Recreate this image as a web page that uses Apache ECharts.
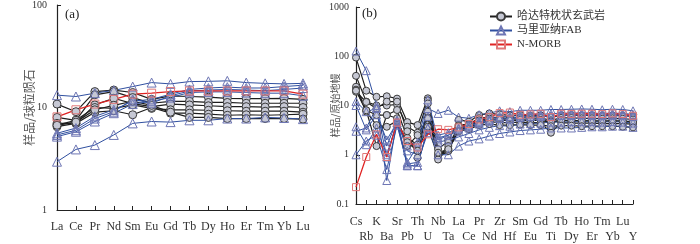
<!DOCTYPE html>
<html><head><meta charset="utf-8">
<script src="https://cdn.jsdelivr.net/npm/echarts@6/dist/echarts.min.js"></script>
<style>html,body{margin:0;padding:0;background:#fff}#c{width:700px;height:244px}</style>
</head><body><div id="c"></div>
<script>
// ---------- Data: chart (a) chondrite-normalised REE ----------
var reeCats = ['La','Ce','Pr','Nd','Sm','Eu','Gd','Tb','Dy','Ho','Er','Tm','Yb','Lu'];
var reeCircle1 = [10.8, 9.1, 14.3, 14.8, 14.0, 12.0, 13.0, 12.8, 12.6, 12.3, 12.2, 12.2, 12.3, 12.0];
var reeCircle2 = [8.0, 7.5, 13.3, 14.3, 12.5, 11.0, 11.5, 11.5, 11.2, 11.2, 11.0, 11.0, 11.0, 11.0];
var reeCircle3 = [7.0, 7.0, 10.6, 12.3, 10.9, 10.2, 10.8, 10.6, 10.4, 10.2, 10.2, 10.1, 10.2, 10.0];
var reeCircle4 = [6.75, 7.5, 10.0, 9.8, 10.6, 9.8, 9.5, 9.5, 9.4, 9.3, 9.2, 9.2, 9.2, 9.0];
var reeCircle5 = [6.5, 7.0, 9.0, 9.3, 8.5, 10.0, 8.8, 8.8, 8.6, 8.4, 8.5, 8.4, 8.5, 8.6];
var reeCircle6 = [6.7, 7.2, 9.5, 10.5, 11.5, 10.5, 9.0, 8.0, 8.0, 7.8, 7.8, 7.8, 7.8, 7.7];
var reeTri1 = [13.2, 12.8, 13.8, 14.7, 16.0, 17.5, 17.0, 17.9, 18.0, 18.2, 17.5, 17.2, 17.0, 17.2];
var reeTri2 = [5.4, 6.0, 7.8, 9.1, 12.0, 11.0, 13.0, 14.5, 14.8, 15.0, 14.8, 14.6, 15.0, 15.5];
var reeTri3 = [5.2, 5.8, 7.3, 8.8, 10.8, 11.5, 12.5, 14.0, 14.2, 14.2, 14.0, 13.8, 13.8, 13.0];
var reeTri4 = [5.6, 6.3, 8.2, 9.5, 11.5, 12.0, 13.5, 15.0, 15.5, 15.8, 15.5, 15.5, 16.0, 16.5];
var reeTri5 = [2.96, 3.9, 4.3, 5.4, 7.0, 7.3, 7.2, 7.5, 7.5, 7.8, 7.8, 8.0, 7.9, 7.7];
var reeMorb = [8.1, 9.5, 10.8, 12.0, 13.5, 13.8, 14.3, 14.5, 14.5, 14.5, 14.5, 14.5, 14.5, 13.5];

// ---------- Data: chart (b) primitive-mantle-normalised spider ----------
var pmCats = ['Cs','Rb','K','Ba','Sr','Pb','Th','U','Nb','Ta','La','Ce','Pr','Nd','Zr','Hf','Sm','Eu','Gd','Ti','Tb','Dy','Ho','Er','Tm','Yb','Lu','Y'];
var pmCircle1 = [94, 20, 15, 15.4, 13.8, 4.6, 4.0, 14, 1.3, 1.9, 5.1, 4.7, 6.4, 6.9, 6.6, 6.3, 6.4, 6.2, 6.3, 5.8, 6.3, 6.4, 6.3, 6.3, 6.2, 6.3, 6.2, 6.0];
var pmCircle2 = [40, 12, 10, 10, 10.5, 3.7, 2.8, 12.8, 1.0, 1.3, 4.0, 4.2, 5.5, 5.9, 5.6, 5.5, 5.7, 5.5, 5.6, 5.0, 5.6, 5.6, 5.5, 5.5, 5.4, 5.5, 5.4, 5.2];
var pmCircle3 = [24, 8, 6.4, 6.4, 8.1, 2.2, 1.6, 7.5, 0.87, 1.2, 3.4, 3.9, 4.7, 5.2, 5.0, 5.0, 5.0, 5.0, 5.0, 4.5, 5.0, 5.0, 4.9, 4.9, 4.8, 4.9, 4.8, 4.7];
var pmCircle4 = [21, 7.5, 4.0, 3.7, 4.9, 1.8, 1.2, 3.7, 0.9, 1.2, 3.2, 3.6, 4.3, 4.7, 4.5, 4.5, 4.6, 4.5, 4.5, 2.8, 4.5, 4.4, 4.4, 4.4, 4.3, 4.3, 4.3, 4.2];
var pmCircle5 = [19, 11.8, 8.7, 12, 12, 3.0, 0.87, 11, 0.8, 1.5, 3.8, 4.0, 5.0, 5.4, 5.2, 5.0, 5.2, 5.0, 5.1, 4.7, 5.0, 4.9, 4.9, 4.8, 4.8, 4.8, 4.8, 4.6];
var pmCircle6 = [20, 8, 1.5, 6.4, 5.5, 1.5, 2.5, 5.5, 1.1, 1.3, 3.0, 3.3, 4.0, 4.2, 4.0, 4.0, 4.1, 4.0, 4.0, 3.8, 3.9, 3.9, 3.8, 3.8, 3.8, 3.8, 3.7, 3.6];
var pmTri1 = [127, 51, 10, 0.3, 5.0, 0.6, 0.6, 3.5, 2.2, 2.5, 3.0, 3.5, 4.2, 4.8, 5.5, 5.5, 5.8, 6.0, 6.2, 6.2, 6.4, 6.5, 6.6, 6.6, 6.5, 6.6, 6.5, 6.2];
var pmTri2 = [12, 7.5, 8.7, 0.9, 4.8, 0.7, 1.5, 8.7, 6.9, 8.0, 5.8, 5.5, 6.5, 7.0, 7.8, 7.5, 8.0, 8.0, 8.0, 8.3, 8.3, 8.4, 8.5, 8.4, 8.2, 8.4, 8.3, 7.8];
var pmTri3 = [10, 3.2, 6.5, 2.0, 4.5, 1.5, 1.8, 13, 2.0, 2.5, 3.3, 3.8, 4.5, 5.0, 5.5, 5.3, 5.8, 6.0, 6.0, 6.0, 6.3, 6.3, 6.4, 6.3, 6.2, 6.3, 6.2, 6.0];
var pmTri4 = [3.7, 1.6, 3.5, 1.0, 4.5, 0.6, 0.6, 3.5, 1.0, 1.0, 1.5, 1.9, 2.1, 2.4, 2.7, 2.9, 3.1, 3.2, 3.3, 3.5, 3.5, 3.5, 3.6, 3.7, 3.7, 3.8, 3.8, 3.6];
var pmTri5 = [3.0, 3.5, 9.0, 1.5, 5.0, 1.2, 1.0, 6.0, 2.5, 2.8, 3.5, 4.0, 4.8, 5.3, 6.0, 6.0, 6.3, 6.5, 6.6, 6.8, 7.0, 7.0, 7.1, 7.0, 6.9, 7.0, 6.9, 6.6];
var pmTri6 = [1.0, 1.9, 2.5, 0.5, 4.0, 0.65, 0.7, 2.8, 1.8, 2.0, 2.3, 2.7, 3.2, 3.6, 3.9, 3.8, 4.2, 4.3, 4.4, 4.6, 4.6, 4.7, 4.7, 4.7, 4.6, 4.7, 4.6, 4.4];
var pmMorb = [0.22, 0.9, 2.6, 0.9, 4.5, 1.9, 1.4, 2.6, 3.3, 3.2, 3.6, 4.2, 5.2, 5.8, 7.0, 7.2, 6.5, 6.6, 6.8, 5.8, 6.8, 6.75, 6.8, 6.8, 6.7, 6.9, 6.7, 6.2];

var nameCircle = '哈达特枕状玄武岩';
var nameTri = '马里亚纳FAB';
var nameMorb = 'N-MORB';

// ---------- Styles ----------
var FONT = '"Liberation Serif", "DejaVu Serif", "Noto Sans CJK SC", serif';
var CJK = '"Noto Sans CJK SC", sans-serif';

function circleSeries(data, xi, size) {
  return { name: nameCircle, type: 'line', xAxisIndex: xi, yAxisIndex: xi, data: data,
    symbol: 'circle', symbolSize: size, silent: true,
    lineStyle: { color: '#1e1e1e', width: 1.2 },
    itemStyle: { color: '#c6c8d4', borderColor: '#3a3a3a', borderWidth: 1 } };
}
function triSeries(data, xi, size) {
  return { name: nameTri, type: 'line', xAxisIndex: xi, yAxisIndex: xi, data: data,
    symbol: 'triangle', symbolSize: size, silent: true,
    lineStyle: { color: '#3050a0', width: 1 },
    itemStyle: { color: 'rgba(255,255,255,0)', borderColor: '#6e76b4', borderWidth: 1 } };
}
function morbSeries(data, xi, size) {
  return { name: nameMorb, type: 'line', xAxisIndex: xi, yAxisIndex: xi, data: data,
    symbol: 'rect', symbolSize: size, silent: true,
    lineStyle: { color: '#e02424', width: 1.3 },
    itemStyle: { color: 'rgba(255,255,255,0)', borderColor: '#e07878', borderWidth: 1 } };
}

var series = [];
[reeCircle1, reeCircle2, reeCircle3, reeCircle4, reeCircle5, reeCircle6].forEach(function (d) { series.push(circleSeries(d, 0, 8)); });
[reeTri1, reeTri2, reeTri3, reeTri4, reeTri5].forEach(function (d) { series.push(triSeries(d, 0, 9)); });
series.push(morbSeries(reeMorb, 0, 8));
[pmCircle1, pmCircle2, pmCircle3, pmCircle4, pmCircle5, pmCircle6].forEach(function (d) { series.push(circleSeries(d, 1, 7)); });
[pmTri1, pmTri2, pmTri3, pmTri4, pmTri5, pmTri6].forEach(function (d) { series.push(triSeries(d, 1, 8)); });
series.push(morbSeries(pmMorb, 1, 7));

var axisLine = { show: true, lineStyle: { color: '#222', width: 1.2 } };

var option = {
  animation: false,
  backgroundColor: '#fff',
  legend: {
    data: [nameCircle, nameTri, nameMorb],
    left: 484, top: 6, orient: 'vertical',
    itemWidth: 22, itemHeight: 10, itemGap: 3,
    textStyle: { fontFamily: FONT, fontSize: 11, color: '#333' },
    selectedMode: false
  },
  grid: [
    { left: 57, right: 397, top: 5, bottom: 34 },
    { left: 356, right: 67, top: 7, bottom: 38 }
  ],
  xAxis: [
    { type: 'category', gridIndex: 0, data: reeCats, boundaryGap: false,
      axisLine: axisLine, axisTick: { show: true, inside: true, length: 4, alignWithLabel: true, lineStyle: { color: '#222' } },
      axisLabel: { interval: 0, margin: 11, fontFamily: FONT, fontSize: 12, color: '#333' },
      splitLine: { show: false } },
    { type: 'category', gridIndex: 1, data: pmCats, boundaryGap: false,
      axisLine: axisLine, axisTick: { show: true, inside: true, length: 4, interval: 0, lineStyle: { color: '#222' } },
      axisLabel: { interval: 0, margin: 10, fontFamily: FONT, fontSize: 12, color: '#333', lineHeight: 15,
        formatter: function (v, i) { return i % 2 ? '\n' + v : v; } },
      splitLine: { show: false } }
  ],
  yAxis: [
    { type: 'log', logBase: 10, gridIndex: 0, min: 1, max: 100,
      name: '样品/球粒陨石', nameLocation: 'middle', nameGap: 22, nameRotate: 90, nameMoveOverlap: false,
      nameTextStyle: { fontFamily: CJK, fontSize: 12, color: '#555' },
      axisLine: axisLine, axisTick: { show: true, inside: true, length: 4, lineStyle: { color: '#222' } },
      axisLabel: { margin: 10, fontFamily: FONT, fontSize: 10, color: '#333', formatter: function (v) { return String(v); } },
      splitLine: { show: false } },
    { type: 'log', logBase: 10, gridIndex: 1, min: 0.1, max: 1000,
      name: '样品/原始地幔', nameLocation: 'middle', nameGap: 16, nameRotate: 90, nameMoveOverlap: false,
      nameTextStyle: { fontFamily: CJK, fontSize: 10, color: '#555' },
      axisLine: axisLine, axisTick: { show: true, inside: true, length: 4, lineStyle: { color: '#222' } },
      axisLabel: { margin: 7, fontFamily: FONT, fontSize: 10, color: '#333', formatter: function (v) { return String(+v.toPrecision(3)); } },
      splitLine: { show: false } }
  ],
  graphic: [
    { type: 'text', left: 65, top: 8, style: { text: '(a)', font: '13px ' + FONT, fill: '#222' } },
    { type: 'text', left: 362, top: 7, style: { text: '(b)', font: '13px ' + FONT, fill: '#222' } }
  ],
  series: series
};

var chart = echarts.init(document.getElementById('c'), null, { renderer: 'canvas' });
chart.setOption(option);
</script>
</body></html>
